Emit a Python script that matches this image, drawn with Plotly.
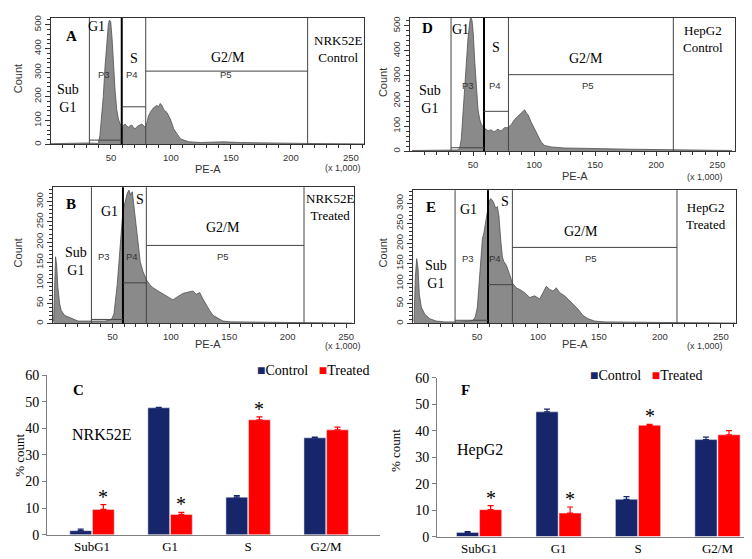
############################################################
# Cell cycle analysis: flow cytometry histograms + % count bars
############################################################

"""
SECTION 0: IMPORTS
"""
import plotly.graph_objects as go

"""
SECTION 1: DATA (read off the reference picture)
"""
# PE-A (x 1,000) / Count pairs for each histogram
nrk_ctrl_x = [0, 10, 20, 30, 36, 39.4, 40.8, 42.2, 43.6, 45, 46.4, 47.8, 48.7, 49.8, 50.9, 52, 53.4,
              54.8, 56.2, 57.6, 59, 60.4, 61.8, 63.2, 64.6, 66, 67.4, 68.8, 70.2, 71.6, 73, 74.4, 75.8,
              77.2, 78.5, 80, 81.3, 82.7, 85.5, 88.3, 89.7, 91.1, 92.5, 93.9, 96.7, 99.5, 102.3, 105,
              107.9, 110.7, 114.9, 124.6, 135, 144, 158, 175, 197, 214, 242, 261]
nrk_ctrl_y = [3, 5, 4, 6, 5, 4, 38, 106, 200, 322, 431, 499, 519, 512, 444, 336, 228,
              146, 106, 85, 72, 80, 85, 76, 72, 78, 81, 70, 65, 74, 79, 82, 85,
              76, 72, 92, 119, 133, 153, 163, 157, 171, 163, 146, 133, 106, 65, 45,
              24, 18, 11, 8, 10, 11, 8, 6, 5, 4, 3, 2]

nrk_trt_x = [-0.4, 0.5, 1.3, 2.2, 3.3, 4.8, 6.2, 9, 11.9, 16.2, 20.5, 26.2, 34.7, 43.3, 47.6, 49.6,
             51.3, 52.7, 54.1, 55.6, 57, 58.4, 59.9, 61.3, 62.7, 64.1, 65.6, 67, 68.4, 69.8, 71.8,
             73.8, 76.1, 79, 81.8, 84.7, 89, 93.3, 97.5, 101.8, 104.7, 107.5, 110.4, 113.2, 116.1,
             119, 121.8, 124.7, 127.5, 130.4, 133.2, 136.1, 140.4, 144.7, 151.8, 174.6, 203, 230, 255]
nrk_trt_y = [4, 112, 164, 144, 88, 48, 32, 20, 16, 10, 6, 6, 6, 6, 8, 12,
             24, 56, 96, 152, 208, 256, 288, 308, 320, 328, 316, 324, 288, 248, 192,
             152, 128, 108, 96, 88, 80, 72, 66, 58, 64, 70, 74, 76, 78,
             80, 72, 76, 60, 44, 32, 20, 12, 6, 4, 3, 2, 2, 1]

hep_ctrl_x = [0, 10, 20, 30, 37, 39, 40.4, 41.8, 43.2, 44.5, 45.9, 47.3, 48.1, 49.2, 50.3, 51.4, 52.7,
              54.1, 55.5, 56.8, 59, 60.6, 62.3, 63.6, 65, 66.3, 67.7, 69.1, 70.5, 71.8, 73.2, 74.5,
              75.9, 78.6, 81.4, 84.1, 86.8, 89.6, 90.9, 92.3, 93.7, 95, 97.8, 100.5, 103.2, 105.9,
              108.7, 114.1, 125, 141.4, 157.8, 179.6, 204, 231, 262]
hep_ctrl_y = [3, 4, 3, 4, 5, 10, 49, 152, 256, 359, 450, 514, 534, 521, 463, 359, 243,
              165, 127, 107, 94, 86, 81, 84, 85, 80, 78, 84, 88, 83, 81, 88,
              94, 94, 107, 127, 140, 152, 159, 165, 152, 146, 114, 88, 62, 36,
              23, 17, 13, 13, 10, 8, 6, 4, 3]

hep_trt_x = [-1.7, -0.6, 0.5, 1.6, 2.7, 4.3, 7, 11.2, 16.6, 23.5, 31.7, 42.6, 46.7, 48.6, 50.3, 51.6,
             53, 54.4, 55.7, 57.1, 58.5, 59.8, 61.2, 62.6, 63.9, 65.3, 66.7, 68, 69.4, 70.8, 72.1,
             74, 76.8, 79, 82.2, 85, 89.1, 93.2, 97.3, 101.4, 104.1, 106.8, 109.6, 112.3, 115,
             117.8, 121.9, 126, 130.1, 132.8, 136.9, 141, 146.5, 154.7, 187.5, 242, 262]
hep_trt_y = [4, 114, 162, 138, 73, 41, 24, 12, 6, 4, 4, 5, 8, 16, 41, 97,
             162, 211, 227, 251, 276, 304, 312, 308, 300, 288, 292, 268, 211, 166, 154,
             146, 122, 101, 89, 85, 77, 65, 69, 61, 77, 93, 85, 81, 89,
             77, 69, 57, 45, 36, 20, 12, 6, 4, 3, 2, 1]

# gate edges (PE-A x 1,000): G1 start, G1/S, S/G2M, G2M end
gate_edges = [32, 59, 79, 214]
# gate bar heights (Count) for P3, P4, P5 in each panel
gates_nrk_ctrl = [18, 157, 306]
gates_nrk_trt = [10, 100, 192]
gates_hep_ctrl = [14, 159, 305]
gates_hep_trt = [8, 97, 190]

# % count bars
phases = ['SubG1', 'G1', 'S', 'G2/M']
nrk_control = [1.5, 47.7, 14.1, 36.4]
nrk_control_err = [0.6, 0.2, 0.6, 0.3]
nrk_treated = [9.5, 7.6, 43.2, 39.4]
nrk_treated_err = [1.8, 0.8, 1.1, 1.0]
nrk_signif = [True, True, True, False]

hep_control = [1.6, 47.2, 14.1, 36.7]
hep_control_err = [0.3, 1.0, 1.0, 0.9]
hep_treated = [10.2, 8.9, 42.1, 38.5]
hep_treated_err = [1.5, 2.3, 0.4, 1.6]
hep_signif = [True, True, True, False]

"""
SECTION 2: HELPERS
"""
W, H = 752, 559
SERIF = 'Liberation Serif, Times New Roman, serif'
SANS = 'Liberation Sans, Arial, sans-serif'
NAVY = '#17256a'
RED = '#ff0000'


def px(x):
    return x / W


def py(y):
    return 1 - y / H


def add_text(fig, x, y, text, size=14, font=SERIF, bold=False, color='black', angle=0):
    if bold:
        text = '<b>' + text + '</b>'
    fig.add_annotation(x=px(x), y=py(y), xref='paper', yref='paper', text=text,
                       showarrow=False, textangle=angle, xanchor='center', yanchor='middle',
                       font=dict(family=font, size=size, color=color))


def add_histogram(fig, n, xs, ys, gates, xdom, ydom, xrange, ymax, ydtick, yminor):
    """Draw one flow cytometry histogram with its gates on axis pair n."""
    xa, ya = ('x', 'y') if n == 1 else ('x%d' % n, 'y%d' % n)
    fig.add_trace(go.Scatter(x=xs, y=ys, mode='lines', fill='tozeroy',
                             fillcolor='#8a8a8a', line=dict(color='#505050', width=0.8),
                             xaxis=xa, yaxis=ya, showlegend=False, hoverinfo='skip'))
    axis_common = dict(showline=True, linecolor='#333333', linewidth=1, mirror=True,
                       ticks='outside', tickcolor='#333333', showgrid=False, zeroline=False,
                       tickfont=dict(family=SANS, size=9.5, color='#333333'))
    key = '' if n == 1 else str(n)
    fig.update_layout(**{
        'xaxis' + key: dict(axis_common, domain=[px(xdom[0]), px(xdom[1])], range=xrange,
                            anchor=ya, tickvals=[50, 100, 150, 200, 250], ticklen=4,
                            minor=dict(tickvals=list(range(10, 261, 10)), ticklen=3,
                                       ticks='outside', tickcolor='#333333')),
        'yaxis' + key: dict(axis_common, domain=[py(ydom[1]), py(ydom[0])], range=[0, ymax],
                            anchor=xa, dtick=ydtick, ticklen=5, tickangle=-90,
                            minor=dict(dtick=yminor, ticklen=3, ticks='outside',
                                       tickcolor='#333333')),
    })
    # gate lines
    for xv in (gate_edges[0], gate_edges[2], gate_edges[3]):
        fig.add_shape(type='line', xref=xa, yref=ya + ' domain', x0=xv, x1=xv, y0=0, y1=1,
                      line=dict(color='#444444', width=1))
    fig.add_shape(type='line', xref=xa, yref=ya + ' domain', x0=gate_edges[1], x1=gate_edges[1],
                  y0=0, y1=1, line=dict(color='black', width=2))
    for i, h in enumerate(gates):
        fig.add_shape(type='line', xref=xa, yref=ya, x0=gate_edges[i], x1=gate_edges[i + 1],
                      y0=h, y1=h, line=dict(color='#444444', width=1))


def add_bars(fig, n, control, control_err, treated, treated_err, signif, xdom, ydom, xrange):
    xa, ya = 'x%d' % n, 'y%d' % n
    pos = list(range(len(phases)))
    for name, vals, errs, col in (('Control', control, control_err, NAVY),
                                  ('Treated', treated, treated_err, RED)):
        fig.add_trace(go.Bar(x=pos, y=vals, name=name, marker_color=col, showlegend=False,
                             error_y=dict(type='data', array=errs, symmetric=False,
                                          arrayminus=[0] * len(errs), color=col,
                                          thickness=1.2, width=3),
                             xaxis=xa, yaxis=ya, offsetgroup=name))
    fig.update_layout(**{
        'xaxis%d' % n: dict(domain=[px(xdom[0]), px(xdom[1])], range=xrange, anchor=ya,
                            tickvals=pos, ticktext=phases, showline=True, linecolor='#7f7f7f',
                            ticks='', showgrid=False, zeroline=False,
                            tickfont=dict(family=SERIF, size=13, color='black')),
        'yaxis%d' % n: dict(domain=[py(ydom[1]), py(ydom[0])], range=[0, 60], dtick=10,
                            anchor=xa, showline=True, linecolor='#7f7f7f', ticks='outside',
                            ticklen=4, tickcolor='#7f7f7f', showgrid=False, zeroline=False,
                            tickfont=dict(family=SERIF, size=14, color='black')),
    })
    for i, s in enumerate(signif):
        if s:
            fig.add_annotation(x=i + 0.145, y=treated[i] + treated_err[i], xref=xa, yref=ya,
                               text='*', showarrow=False, yanchor='bottom', yshift=-5,
                               font=dict(family=SERIF, size=20, color='black'))


"""
SECTION 3: BUILD FIGURE
"""
fig = go.Figure()

# histograms: A (NRK52E control), D (HepG2 control), B (NRK52E treated), E (HepG2 treated)
add_histogram(fig, 1, nrk_ctrl_x, nrk_ctrl_y, gates_nrk_ctrl, (43, 356), (3, 133), [0, 261], 528, 100, 20)
add_histogram(fig, 2, hep_ctrl_x, hep_ctrl_y, gates_hep_ctrl, (402, 727), (3, 140), [-1.6, 264.5], 531, 100, 20)
add_histogram(fig, 3, nrk_trt_x, nrk_trt_y, gates_nrk_trt, (45, 346), (177, 317), [-0.9, 256.8], 335, 50, 10)
add_histogram(fig, 4, hep_trt_x, hep_trt_y, gates_hep_trt, (405, 728), (180, 317), [-2.5, 262.4], 333, 50, 10)

# bar charts: C (NRK52E), F (HepG2)
add_bars(fig, 5, nrk_control, nrk_control_err, nrk_treated, nrk_treated_err, nrk_signif,
         (39, 372), (370, 534), [-0.577, 3.69])
add_bars(fig, 6, hep_control, hep_control_err, hep_treated, hep_treated_err, hep_signif,
         (429, 750), (373, 536), [-0.53, 3.51])

# histogram labels
panels = [
    # letter, letter pos, cell, cell pos, G1 pos, S pos, G2/M pos, SubG1 pos, P-label y, P3/P4/P5 x
    ('A', (63, 22), 'NRK52E<br>Control', (330, 35), (88, 12), (126, 45), (220, 44), (60, 86), 61, (96, 124, 218)),
    ('D', (420, 13), 'HepG2<br>Control', (695, 25), (452, 15), (488, 33), (578, 45), (422, 87), 72, (460, 487, 580)),
    ('B', (63, 194), 'NRK52E<br>Treated', (322, 197), (101, 202), (132, 190), (215, 218), (68, 253), 248, (96, 124, 215)),
    ('E', (423, 197), 'HepG2<br>Treated', (698, 207), (460, 200), (497, 192), (573, 222), (428, 267), 250, (460, 487, 583)),
]
for letter, lp, cell, cp, g1p, sp, g2p, subp, ply, plx in panels:
    add_text(fig, lp[0], lp[1], letter, size=15, bold=True)
    add_text(fig, cp[0], cp[1], cell, size=13)
    add_text(fig, g1p[0], g1p[1], 'G1', size=14)
    add_text(fig, sp[0], sp[1], 'S', size=14)
    add_text(fig, g2p[0], g2p[1], 'G2/M', size=14)
    add_text(fig, subp[0], subp[1], 'Sub<br>G1', size=14)
    for lab, xx in zip(('P3', 'P4', 'P5'), plx):
        add_text(fig, xx, ply, lab, size=9.5, font=SANS, color='#333333')

# axis titles of histograms
for cx, cy, ex, ey in ((10, 66, 200, 158), (375, 70, 567, 165), (10, 245, 200, 338), (375, 245, 567, 338)):
    add_text(fig, cx, cy, 'Count', size=11, font=SANS, color='#333333', angle=-90)
    add_text(fig, ex, ey, 'PE-A', size=11, font=SANS, color='#333333')
for x0, y0 in ((335, 157), (697, 166), (335, 340), (697, 340)):
    add_text(fig, x0, y0, '(x 1,000)', size=9, font=SANS, color='#333333')

# bar chart labels
add_text(fig, 70, 385, 'C', size=15, bold=True)
add_text(fig, 94, 431, 'NRK52E', size=16)
add_text(fig, 12, 452, '% count', size=13, angle=-90)
add_text(fig, 457, 385, 'F', size=15, bold=True)
add_text(fig, 472, 447, 'HepG2', size=16)
add_text(fig, 388, 448, '% count', size=13, angle=-90)

# legends
for lx, ly in ((305, 375), (696, 380)):
    fig.add_annotation(x=px(lx), y=py(ly), xref='paper', yref='paper', showarrow=False,
                       text="<span style='color:%s'>■</span>Control   <span style='color:%s'>■</span>Treated" % (NAVY, RED),
                       font=dict(family=SERIF, size=14, color='black'))

fig.update_layout(width=W, height=H, margin=dict(l=0, r=0, t=0, b=0),
                  paper_bgcolor='white', plot_bgcolor='white',
                  barmode='group', bargap=0.42, bargroupgap=0.04)

fig.write_html("out.html")
